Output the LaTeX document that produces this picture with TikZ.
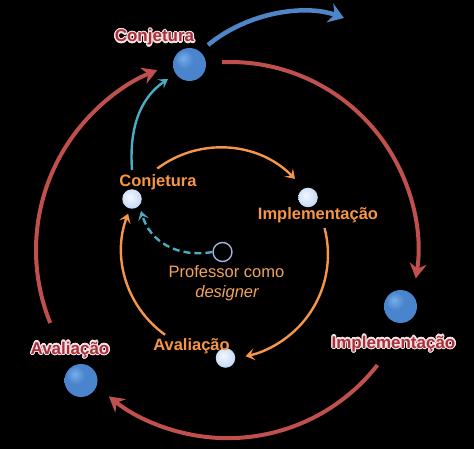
\documentclass[tikz,border=0pt]{standalone}
\usepackage{fontspec}
\setmainfont{Liberation Sans}
\usepackage{contour}
\contourlength{1.1pt}
\contournumber{24}
\usetikzlibrary{arrows.meta,calc}
\definecolor{outred}{HTML}{C0504D}
\definecolor{txtred}{HTML}{A8303C}
\definecolor{rimwhite}{HTML}{F6E2E2}
\definecolor{inorange}{HTML}{F79646}
\definecolor{profor}{HTML}{F2A35E}
\definecolor{ltblue}{HTML}{4BACC6}
\definecolor{midblue}{HTML}{4A84CC}
\definecolor{topblue}{HTML}{4F86C8}
\definecolor{ringblue}{HTML}{A4AEE0}
\definecolor{hiblue}{HTML}{78AEEA}
\definecolor{rimblue}{HTML}{2C5A98}
\definecolor{palecore}{HTML}{F4F8FF}
\definecolor{paleedge}{HTML}{9EC2EE}
\pgfdeclareradialshading{bigsh}{\pgfpoint{-10bp}{10bp}}{color(0bp)=(hiblue);color(14bp)=(midblue);color(40bp)=(midblue);color(58bp)=(rimblue);color(80bp)=(rimblue)}
\pgfdeclareradialshading{smallsh}{\pgfpoint{-6bp}{6bp}}{color(0bp)=(palecore);color(20bp)=(palecore!60!paleedge);color(50bp)=(paleedge);color(70bp)=(paleedge!80!blue)}
\begin{document}
\begin{tikzpicture}[x=1pt,y=-1pt,
  bigball/.style={circle,minimum size=33pt,inner sep=0pt,shading=bigsh},
  smallball/.style={circle,minimum size=19.5pt,inner sep=0pt,shading=smallsh},
  ring/.style={circle,minimum size=19pt,inner sep=0pt,draw=ringblue,line width=1.4pt,fill=black},
  outlabel/.style={anchor=base,text=txtred,font=\bfseries\fontsize{17}{20}\selectfont},
  inlabel/.style={anchor=base,text=inorange,font=\bfseries\fontsize{16.5}{20}\selectfont},
  proflabel/.style={anchor=base,text=profor,font=\fontsize{16.5}{20}\selectfont},
  redarc/.style={draw=outred,line width=4pt,-{Stealth[length=15pt,width=17pt,inset=5pt]}},
  orarc/.style={draw=inorange,line width=2.4pt,-{Stealth[length=9pt,width=12pt,inset=4pt]}},
  cyarrow/.style={draw=ltblue,line width=2.4pt,-{Stealth[length=9pt,width=11pt,inset=4pt]}},
  bluearrow/.style={draw=topblue,line width=4.5pt,-{Stealth[length=15pt,width=20pt,inset=5pt]}}
]
\fill[black] (0,0) rectangle (474,449);
\useasboundingbox (0,0) rectangle (474,449);

% centres of the two cycles
\coordinate (O) at (230,250);
\coordinate (I) at (222,255);

% outer cycle
\node[bigball] (cT) at (189.5,64.5) {};
\node[bigball] (cR) at (400.5,306.5) {};
\node[bigball] (cL) at (81,380.5) {};
\node[outlabel] (lT) at (154.5,42) {\contour{rimwhite}{Conjetura}};
\node[outlabel] (lR) at (393.5,348) {\contour{rimwhite}{Implementação}};
\node[outlabel] (lL) at (70,354) {\contour{rimwhite}{Avaliação}};

\draw[redarc] ($(O)+(-92.4:188)$) arc[start angle=-92.4,end angle=8.7,radius=188];
\draw[redarc] ($(O)+(38:187)$) arc[start angle=38,end angle=128.7,radius=190];
\draw[redarc] ($(O)+(157.9:194)$) arc[start angle=157.9,end angle=248,radius=194];

% inner cycle
\node[smallball] (iC) at (132,199) {};
\node[smallball] (iI) at (308,197.5) {};
\node[smallball] (iA) at (225.5,358) {};
\node[ring] (pr) at (222.5,252) {};
\node[inlabel] (liC) at (158,187) {Conjetura};
\node[inlabel] (liI) at (318,220) {Implementação};
\node[inlabel] (liA) at (191.5,350) {Avaliação};
\node[proflabel] (lp1) at (226.5,277) {Professor como};
\node[proflabel] (lp2) at (227,297) {\itshape designer};

\draw[orarc] ($(I)+(-126.8:108)$) arc[start angle=-126.8,end angle=-44.6,radius=105];
\draw[orarc] ($(I)+(-14.7:106)$) arc[start angle=-14.7,end angle=78,radius=104];
\draw[orarc] ($(I)+(125.5:98)$) arc[start angle=125.5,end angle=200.5,radius=104];

% blue connectors
\coordinate (cyS) at (132,170);
\coordinate (cyE) at (168,79);
\draw[cyarrow] (cyS) .. controls (129,128) and (140,98) .. (cyE);
\draw[cyarrow,dash pattern=on 7pt off 4pt] (pr.west) .. controls (178,258) and (150,242) .. (141,211);

\coordinate (tE) at (344,18);
\draw[bluearrow] (208,45) .. controls (248,12) and (305,4) .. (tE);
\end{tikzpicture}
\end{document}
